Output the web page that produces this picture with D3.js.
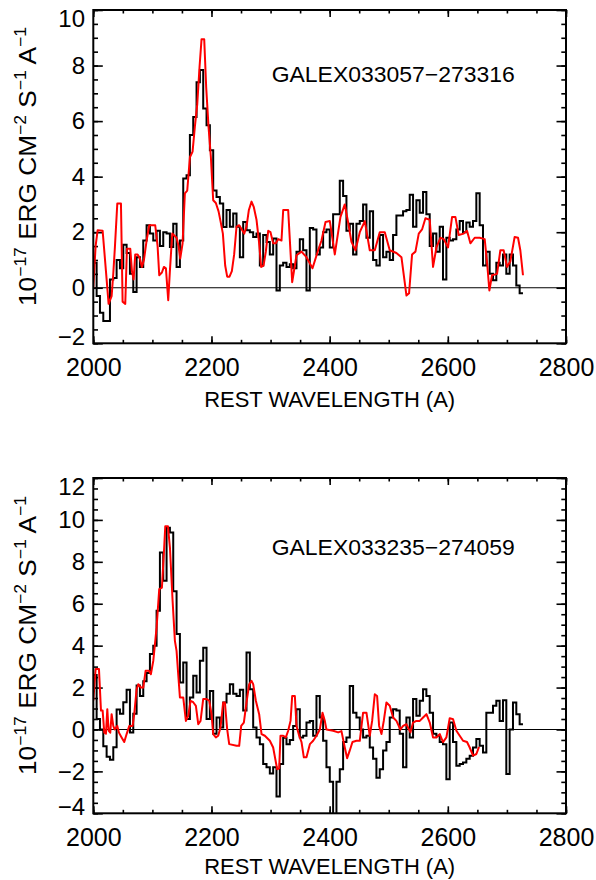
<!DOCTYPE html>
<html><head><meta charset="utf-8">
<script src="https://cdn.jsdelivr.net/npm/d3@7"></script>
<style>body{margin:0;background:#fff}svg{display:block}</style>
</head><body>
<svg id="c" width="596" height="880"></svg>
<script>
// ---------- data ----------
const xTicks = [2000, 2200, 2400, 2600, 2800];
const xMinorStep = 50;
const topYTicks = [-2, 0, 2, 4, 6, 8, 10];
const botYTicks = [-4, -2, 0, 2, 4, 6, 8, 10, 12];
const yMinorStep = 0.5;
const topName = "GALEX033057\u2212273316";
const botName = "GALEX033235\u2212274059";
const xTitle = "REST WAVELENGTH (A)";
const binStart = 2000, binStep = 5.637;   // wavelength grid of the observed (histogram) spectra

const topBlack = [0.9,-0.3,-0.9,-1.2,-1.2,0.3,0.35,1.0,0.7,1.55,
1.25,0.5,-0.15,1.1,0.75,1.7,2.25,1.95,1.7,2.05,
1.5,2.0,1.95,1.47,2.3,0.75,1.7,3.93,4.05,5.5,
6.15,7.4,7.84,6.45,5.85,4.95,3.5,3.27,3.03,2.19,
2.8,2.2,2.67,2.2,1.1,2.37,2.07,2.0,1.83,1.95,
0.8,1.9,1.65,1.2,1.77,-0.1,0.8,0.9,0.75,0.85,
0.7,1.3,1.75,1.35,-0.1,2.15,2.1,1.2,1.45,2.0,
2.1,1.45,2.65,2.65,3.85,3.3,2.05,2.3,1.2,2.3,
2.4,3.0,1.8,2.75,1.0,0.8,1.9,1.1,1.3,1.0,
1.9,2.6,2.6,2.75,2.8,3.35,2.2,3.15,2.7,3.45,
2.65,1.5,1.95,1.3,2.2,0.3,1.8,1.7,1.75,2.1,
2.4,2.0,2.35,2.2,2.4,3.4,2.25,0.8,1.3,0.5,
0.27,0.9,0.8,1.2,0.5,1.2,0.8,0.08,-0.2];

const botBlack = [2.6,0.5,0.0,-0.8,-1.3,-1.45,-0.85,0.95,0.75,1.3,
1.9,-0.15,0.75,2.1,1.6,2.3,2.7,3.6,4.0,5.66,
8.44,7.1,9.63,9.4,6.6,4.55,2.24,3.2,0.5,1.53,
2.56,1.76,3.28,3.9,0.5,1.84,-0.2,0.57,0.1,1.29,
1.7,2.16,1.7,1.6,1.9,0.9,3.67,1.92,0.1,-0.38,
-0.7,-1.65,-1.8,-2.1,-1.8,-3.2,-1.65,-0.4,-0.7,-0.5,
0.17,0.97,-0.38,-0.3,0.33,0.41,-0.3,1.6,0.57,-0.54,
-1.8,-2.5,-4.6,-2.5,-1.9,-0.6,-0.38,2.08,0.8,0.57,
0.0,-0.38,-0.3,-0.86,-1.4,-2.3,-1.9,-1.0,-0.6,0.57,
0.97,0.9,-0.2,-1.8,0.57,-0.38,1.45,0.65,1.37,1.92,
1.6,0.8,-0.2,-0.3,-0.6,-0.7,-2.37,0.33,-0.6,-1.73,
-1.65,-1.57,-1.4,-1.25,-0.86,-0.46,-0.78,-1.1,0.8,0.8,
1.13,1.37,0.41,1.4,-2.13,0.0,1.29,0.73,0.25];

// [wavelength, flux] vertices of the red model curves
const topRed = [[2000,0],[2003.9,1.5],[2007.3,2.07],[2015.8,2.05],[2021.4,0.6],[2025.9,-0.58],[2031,-0.3],[2033.8,0.5],[2036.6,1.47],[2040.6,3.03],[2046.8,3.03],[2049.6,-0.5],[2054.1,-0.58],[2056.9,1.4],[2062.6,1.4],[2065.4,0.6],[2068.2,0.3],[2071,1.2],[2075,1.2],[2078.9,1.05],[2082.3,0.75],[2085.7,1.0],[2090.2,1.7],[2094.7,2.25],[2104.8,2.25],[2108.8,1.5],[2111.6,0.45],[2116.1,0.55],[2119.5,0.75],[2122.9,0.7],[2126.8,-0.45],[2129.6,0.6],[2133.6,1.95],[2140.9,1.8],[2144.3,1.5],[2147.1,1.05],[2151.1,1.6],[2155,3.4],[2159,3.5],[2163.5,4.7],[2168,4.9],[2171.9,5.8],[2175.9,6.6],[2179.8,7.95],[2183.2,8.95],[2187.7,8.95],[2191.1,7.2],[2195,5.8],[2199,4.7],[2202.9,3.15],[2207.4,3.05],[2212,2.75],[2215.3,2.4],[2219.3,1.95],[2223.2,0.8],[2226.6,0.4],[2230.5,0.4],[2234.5,0.6],[2238.4,1.2],[2242.4,2.2],[2246.9,2.25],[2251.4,2.1],[2255.4,1.95],[2259.3,2.2],[2263.3,2.8],[2267.8,3.1],[2271.7,2.9],[2276.2,2.45],[2280.2,1.7],[2284.1,0.75],[2288.1,0.8],[2292,1.3],[2296,2.05],[2299.9,2.0],[2304.4,1.6],[2308.9,1.6],[2312.9,1.75],[2318.5,1.7],[2321.4,2.8],[2329.8,2.8],[2336.6,0.2],[2343.9,1.17],[2352.4,1.3],[2360.8,1.1],[2371,0.7],[2380.5,1.35],[2386.2,1.7],[2393,2.37],[2400.3,2.4],[2408.7,1.2],[2418.3,2.55],[2425.6,3.0],[2431.3,2.35],[2436.9,1.65],[2443.7,1.35],[2451,2.0],[2459.5,2.4],[2467.9,1.35],[2476.4,1.35],[2484.8,2.0],[2493.3,2.0],[2501.7,1.35],[2513,1.25],[2521.5,1.1],[2530,-0.28],[2534.4,-0.2],[2539.5,1.2],[2545.2,1.3],[2550.8,1.95],[2556.4,2.1],[2562.1,2.5],[2569.4,2.45],[2575,0.75],[2580.7,1.45],[2587.4,1.8],[2593.1,1.75],[2600.4,1.45],[2607.2,2.55],[2612.8,2.55],[2618.4,1.9],[2626.9,1.95],[2632.5,2.05],[2638.2,1.6],[2645.5,1.8],[2654,1.8],[2662.4,1.75],[2666.9,0.8],[2670.3,-0.1],[2674.8,0.45],[2683.3,0.5],[2688.9,1.35],[2694.5,1.35],[2700.2,0.75],[2705.8,0.95],[2713.1,1.83],[2718.8,1.8],[2722.7,1.35],[2727.2,0.45]];

const botRed = [[2000,1.37],[2003.9,2.88],[2009.6,2.88],[2013,0.9],[2015.8,0.9],[2018.6,-0.15],[2021.4,-0.2],[2023.7,0.97],[2025.9,-0.05],[2028.7,-0.15],[2031,0.73],[2033.8,0.17],[2036.1,0.0],[2040.6,0.17],[2043.4,-0.15],[2047.9,-0.38],[2052.4,-0.6],[2056.4,-0.22],[2060.9,0.17],[2066.5,0.17],[2069.3,0.73],[2073.3,1.92],[2076.1,2.16],[2080.6,2.0],[2084.6,2.0],[2088.5,2.8],[2094.1,2.8],[2097.5,2.64],[2101.5,3.27],[2107.1,4.86],[2111.6,6.7],[2116.1,6.77],[2119.5,8.44],[2121.8,9.7],[2126.3,9.7],[2129.7,8.68],[2134.2,6.14],[2138.1,4.23],[2140.9,3.75],[2143.7,2.64],[2146.6,1.53],[2152.2,1.53],[2156.7,0.41],[2160.7,0.65],[2164.6,1.37],[2169.1,1.3],[2173.6,1.13],[2177.6,0.25],[2181.5,0.41],[2186,1.45],[2191.7,1.45],[2196.2,1.37],[2200.1,0.73],[2202.9,-0.22],[2207.4,-0.38],[2211.4,-0.3],[2215.3,0.1],[2219.8,1.29],[2222.7,1.29],[2226.6,0.0],[2230,-0.7],[2242.4,-0.78],[2246.9,-0.78],[2250.3,0.17],[2254.8,0.33],[2259.3,1.29],[2263.8,2.16],[2267.8,2.32],[2270.6,2.16],[2275.1,1.37],[2280.7,0.73],[2284.7,-0.22],[2290.3,-0.3],[2298.8,-0.54],[2304.4,-0.86],[2311.2,-1.9],[2314.6,-1.85],[2316.8,-0.3],[2321.4,-0.3],[2325.9,-0.38],[2329.8,-0.06],[2333.8,0.41],[2336.6,1.6],[2341.1,1.6],[2343.9,0.17],[2348.4,-0.3],[2352.4,-0.6],[2356.3,-1.33],[2360.8,-1.33],[2366.5,-0.7],[2372.1,-0.54],[2377.7,-0.3],[2383.4,0.0],[2387.9,0.8],[2391.8,0.41],[2394.6,0.0],[2405.9,-0.06],[2414.4,-0.14],[2420,-0.08],[2425.6,-0.86],[2429.6,-1.37],[2434.1,-1.0],[2438.6,-0.6],[2445.4,-0.54],[2451,-0.54],[2456.6,0.8],[2462.3,0.8],[2467.9,-0.3],[2471.9,0.41],[2476.4,1.68],[2480.3,1.6],[2483.7,0.17],[2487.7,-0.22],[2491.6,0.41],[2496.1,1.29],[2501.7,1.13],[2507.4,0.57],[2513,0.41],[2519.8,0.0],[2524.3,0.17],[2529.9,0.25],[2536.7,-0.14],[2541.2,0.33],[2546.8,0.41],[2552.5,0.41],[2558.1,0.57],[2563.8,0.73],[2569.4,0.33],[2575,-0.38],[2580.7,-0.38],[2586.3,-0.22],[2591.9,-0.6],[2597.6,-0.38],[2603.2,0.54],[2608.9,0.49],[2614.5,-0.06],[2620.1,-0.3],[2625.8,-0.54],[2632.5,-0.6],[2637,-0.86],[2642.7,-1.25],[2648.3,-1.17],[2652.8,-0.83]];

// ---------- drawing ----------
const FONT = "'Liberation Sans', Arial, Helvetica, sans-serif";
const svg = d3.select("#c");
const L = 93.3, R = 566;
const x = d3.scaleLinear([xTicks[0], xTicks[xTicks.length-1]], [L, R]);

function panel(id, yTicks, top, bottom, black, red, name, nameBaseline, titleY, xTitleBaseline) {
  const dom = [yTicks[0], yTicks[yTicks.length-1]];
  const y = d3.scaleLinear(dom, [bottom, top]);
  const g = svg.append("g");

  g.append("clipPath").attr("id", "clip" + id)
    .append("rect").attr("x", L).attr("y", top).attr("width", R - L).attr("height", bottom - top);

  const xMinor = d3.range(xTicks[0], xTicks[xTicks.length-1] + 1, xMinorStep);
  const yMinor = d3.range(dom[0], dom[1] + 0.001, yMinorStep);
  const clean = s => { s.select(".domain").remove(); s.attr("font-family", null).attr("font-size", null); };
  const tickStyle = s => s.selectAll("line").attr("stroke", "#000").attr("stroke-width", 1.6);

  // x axes (ticks inward)
  g.append("g").attr("transform", `translate(0,${bottom})`)
    .call(d3.axisBottom(x).tickValues(xMinor).tickSize(-3.5).tickFormat(""))
    .call(clean).call(tickStyle);
  const xb = g.append("g").attr("transform", `translate(0,${bottom})`)
    .call(d3.axisBottom(x).tickValues(xTicks).tickSize(-7).tickPadding(15).tickFormat(d3.format("d")))
    .call(clean).call(tickStyle);
  xb.selectAll("text").attr("font-family", FONT).attr("font-size", 25).attr("fill", "#000");
  g.append("g").attr("transform", `translate(0,${top})`)
    .call(d3.axisTop(x).tickValues(xMinor).tickSize(-3.5).tickFormat(""))
    .call(clean).call(tickStyle);
  g.append("g").attr("transform", `translate(0,${top})`)
    .call(d3.axisTop(x).tickValues(xTicks).tickSize(-7).tickFormat(""))
    .call(clean).call(tickStyle);

  // y axes
  g.append("g").attr("transform", `translate(${L},0)`)
    .call(d3.axisLeft(y).tickValues(yMinor).tickSize(-4.7).tickFormat(""))
    .call(clean).call(tickStyle);
  const yl = g.append("g").attr("transform", `translate(${L},0)`)
    .call(d3.axisLeft(y).tickValues(yTicks).tickSize(-9.5).tickPadding(8.3).tickFormat(d3.format("d")))
    .call(clean).call(tickStyle);
  yl.selectAll("text").attr("font-family", FONT).attr("font-size", 24).attr("fill", "#000")
    .attr("y", d => d === dom[1] ? 9 : (d === dom[0] ? -6 : 0));
  g.append("g").attr("transform", `translate(${R},0)`)
    .call(d3.axisRight(y).tickValues(yMinor).tickSize(-4.7).tickFormat(""))
    .call(clean).call(tickStyle);
  g.append("g").attr("transform", `translate(${R},0)`)
    .call(d3.axisRight(y).tickValues(yTicks).tickSize(-9.5).tickFormat(""))
    .call(clean).call(tickStyle);

  // zero line
  g.append("line").attr("x1", L).attr("x2", R).attr("y1", y(0)).attr("y2", y(0))
    .attr("stroke", "#000").attr("stroke-width", 1.2);

  const data = g.append("g").attr("clip-path", `url(#clip${id})`);
  // observed spectrum as histogram
  const pts = black.map((v, i) => [binStart + i * binStep, v]);
  pts.push([binStart + black.length * binStep, black[black.length - 1]]);
  data.append("path").datum(pts)
    .attr("d", d3.line().x(d => x(d[0])).y(d => y(d[1])).curve(d3.curveStepAfter))
    .attr("fill", "none").attr("stroke", "#000").attr("stroke-width", 2).attr("stroke-linejoin", "miter");
  // model
  data.append("path").datum(red)
    .attr("d", d3.line().x(d => x(d[0])).y(d => y(d[1])))
    .attr("fill", "none").attr("stroke", "#ff0000").attr("stroke-width", 2).attr("stroke-linejoin", "round");

  // frame
  g.append("rect").attr("x", L).attr("y", top).attr("width", R - L).attr("height", bottom - top)
    .attr("fill", "none").attr("stroke", "#000").attr("stroke-width", 2);

  // object name
  g.append("text").attr("x", 271.7).attr("y", nameBaseline)
    .attr("font-family", FONT).attr("font-size", 22).attr("fill", "#000")
    .attr("textLength", 243).attr("lengthAdjust", "spacingAndGlyphs").text(name);

  // x title
  g.append("text").attr("x", (L + R) / 2).attr("y", xTitleBaseline).attr("text-anchor", "middle")
    .attr("font-family", FONT).attr("font-size", 22).attr("fill", "#000")
    .attr("textLength", 251).attr("lengthAdjust", "spacingAndGlyphs").text(xTitle);

  // y title
  const t = g.append("text").attr("transform", `translate(36,${titleY}) rotate(-90)`)
    .attr("text-anchor", "middle").attr("font-family", FONT).attr("font-size", 24).attr("fill", "#000")
    .attr("textLength", 279).attr("lengthAdjust", "spacingAndGlyphs");
  const parts = [["10", false], ["\u221217", true], [" ERG CM", false], ["\u22122", true],
                 [" S", false], ["\u22121", true], [" A", false], ["\u22121", true]];
  let raised = false;
  parts.forEach(([s, sup]) => {
    const ts = t.append("tspan").text(s);
    if (sup) { ts.attr("font-size", 16).attr("dy", raised ? 0 : -10); raised = true; }
    else { ts.attr("dy", raised ? 10 : 0); raised = false; }
  });
}

panel("t", topYTicks, 10, 343.3, topBlack, topRed, topName, 81.7, 166.5, 407);
panel("b", botYTicks, 478, 813.3, botBlack, botRed, botName, 555, 635.5, 874);
</script>
</body></html>
